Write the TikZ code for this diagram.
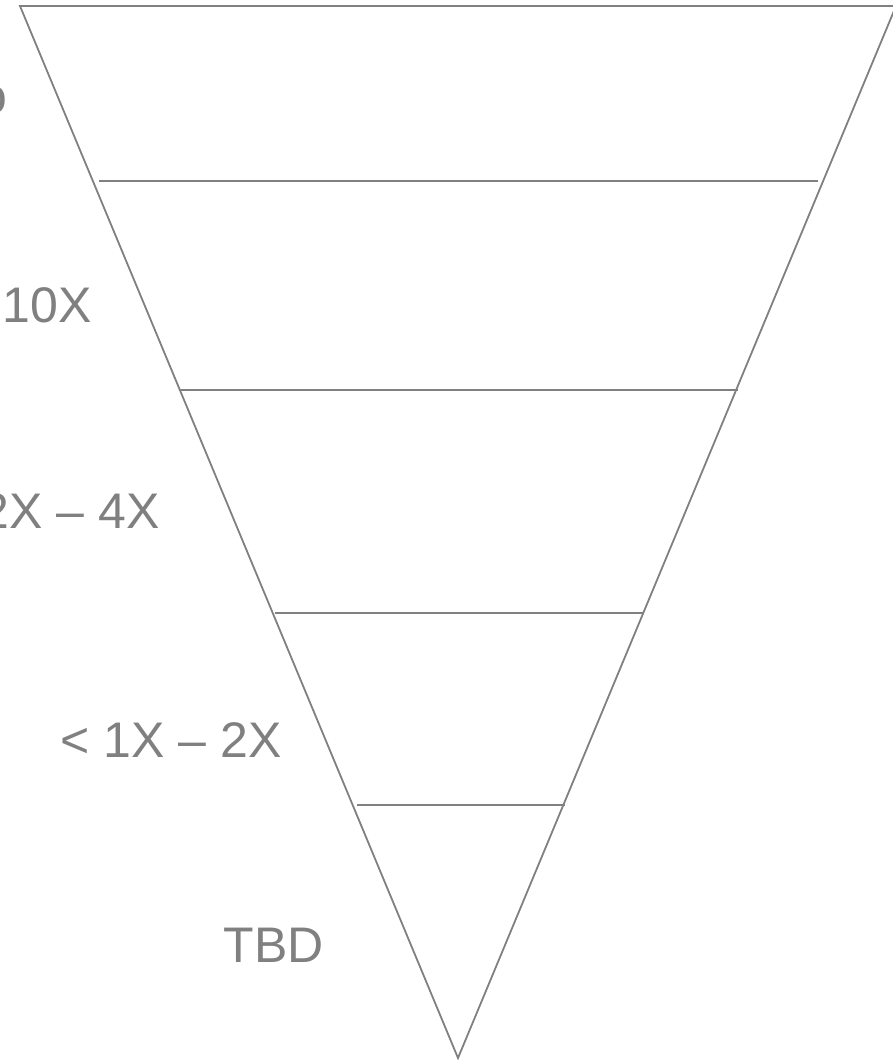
\documentclass[tikz,border=0pt]{standalone}
\usepackage{fontspec}
\setmainfont{Liberation Sans}
\usepackage{xcolor}
\usetikzlibrary{positioning,calc}
\definecolor{fgray}{HTML}{808080}
\tikzset{
  edge/.style={draw=fgray, line width=1.8pt, line join=miter},
  tier/.style={draw=fgray, line width=1.8pt},
  lbl/.style={text=fgray, inner sep=0pt, anchor=base east,
              font=\fontsize{50}{58}\selectfont},
}

\begin{document}
\begin{tikzpicture}[x=1pt, y=-1pt]
  \useasboundingbox (0,0) rectangle (893,1063);
  \begin{scope}
    \clip (0,0) rectangle (893,1063);
    % funnel outline
    \coordinate (tl) at (20,6);
    \coordinate (tr) at (896,6);
    \coordinate (apex) at (458,1058);
    \draw[edge] (tl) -- (tr) -- (apex) -- cycle;
    % tiers
    \draw[tier] (99,181) -- (818,181);
    \draw[tier] (180,390) -- (738,390);
    \draw[tier] (275,613) -- (643,613);
    \draw[tier] (357,805) -- (565,805);
    % labels
    \node[lbl] (l0) at (8,113) {o};
    \node[lbl] (l1) at (92,322) {10X};
    \node[lbl] (l2) at (160,528) {2X – 4X};
    \node[lbl] (l3) at (282,757) {< 1X – 2X};
    \node[lbl] (l4) at (324,962) {TBD};
  \end{scope}
\end{tikzpicture}
\end{document}
